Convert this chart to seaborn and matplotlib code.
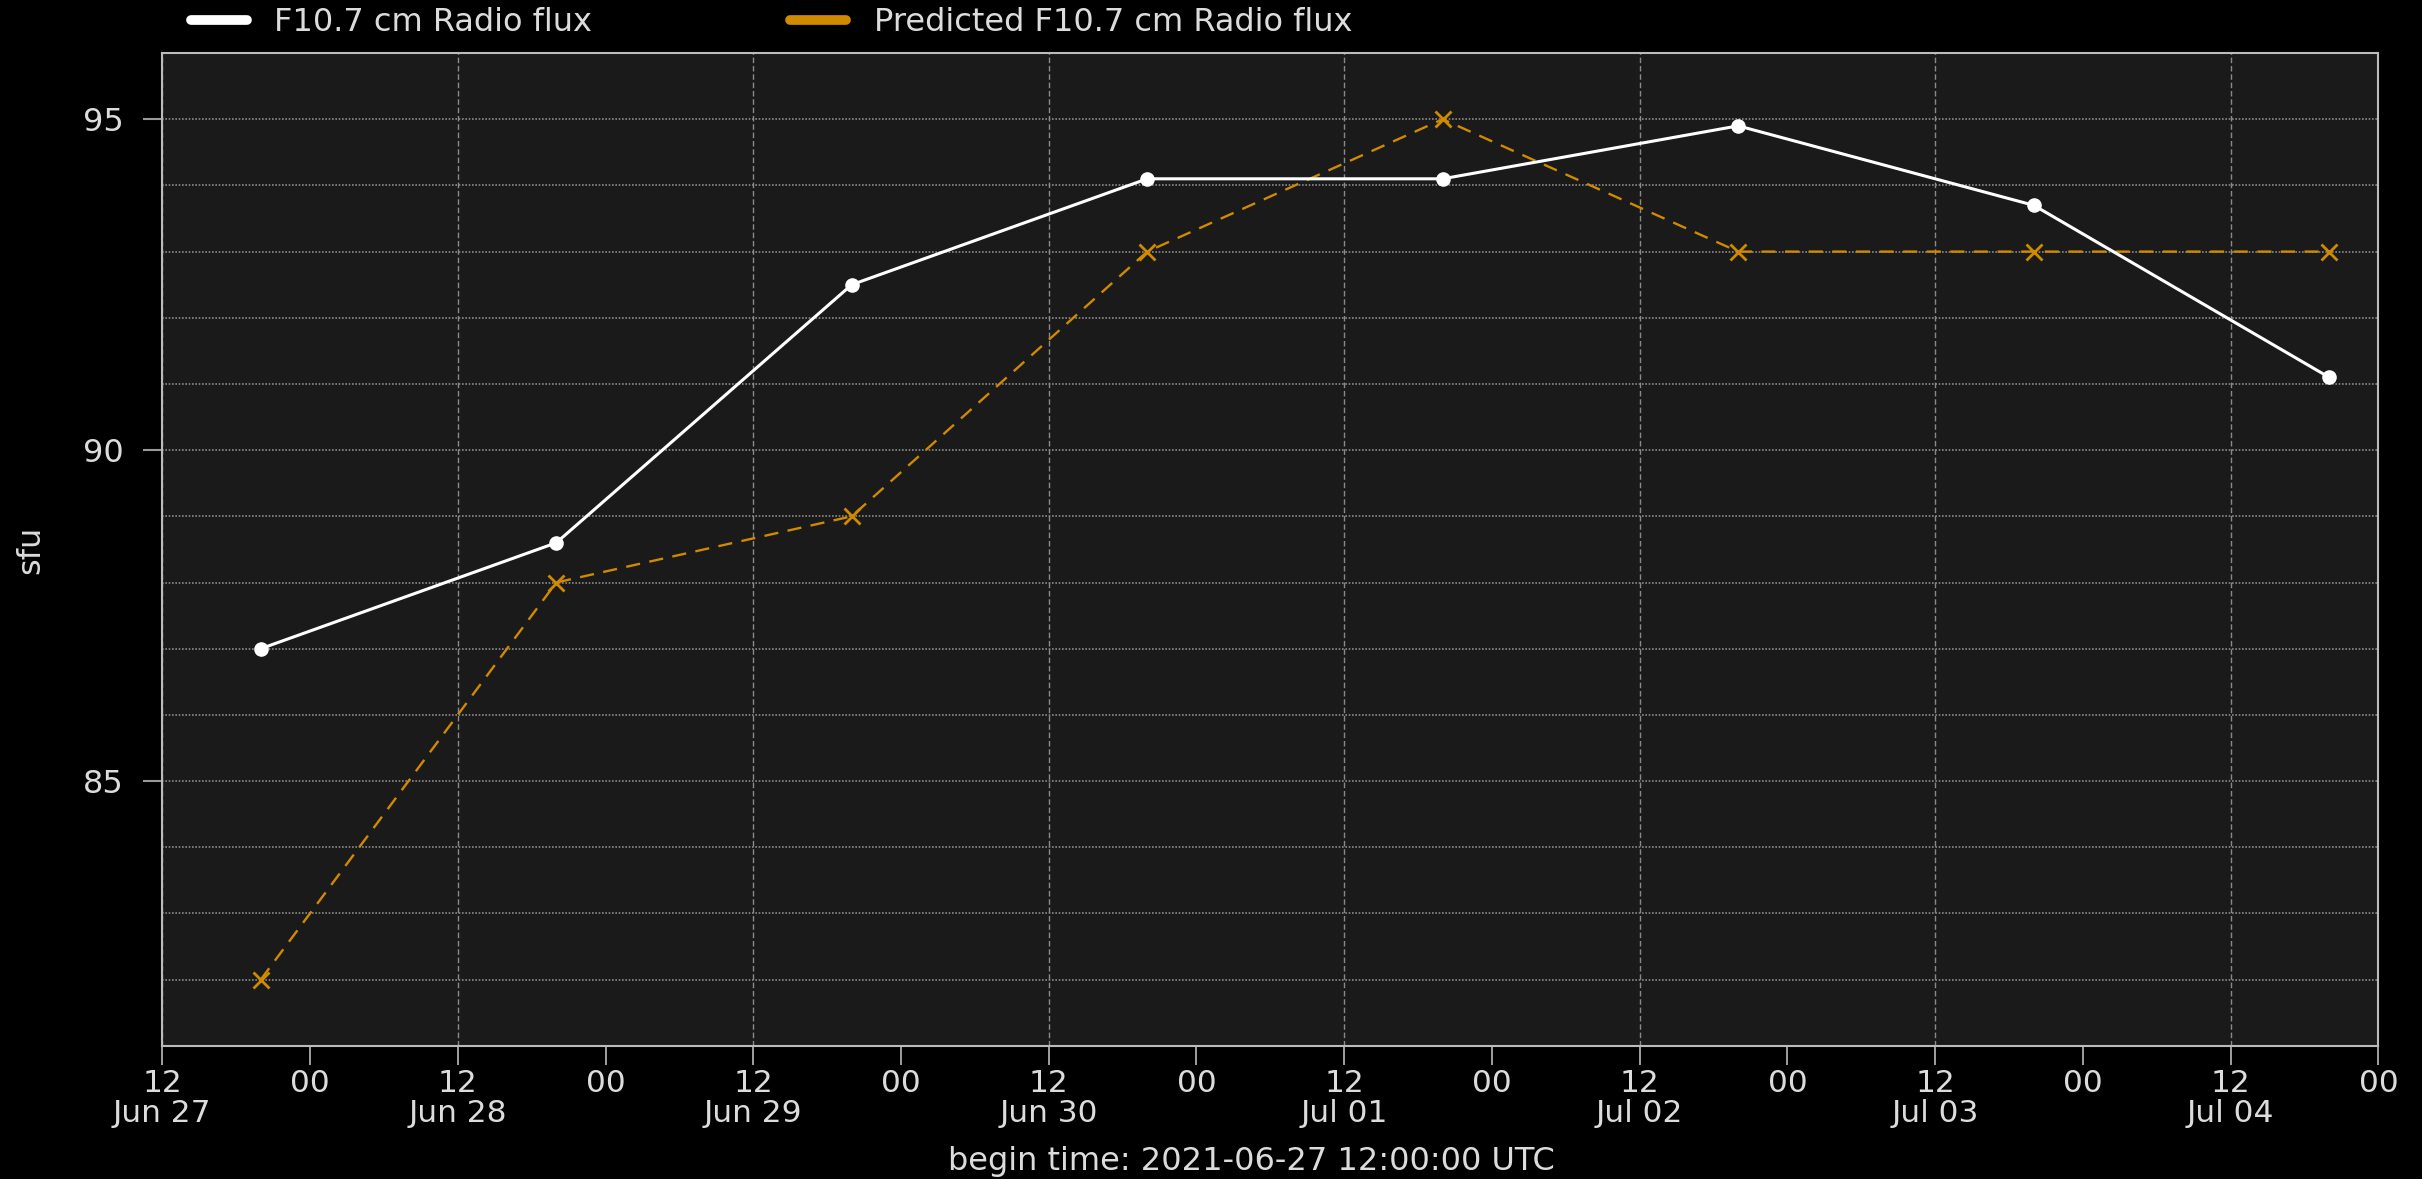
import pandas as pd
import matplotlib
matplotlib.use('Agg')
import matplotlib.pyplot as plt
import matplotlib.dates as mdates
from matplotlib.lines import Line2D
from matplotlib.ticker import MultipleLocator
import seaborn as sns

# Daily F10.7 values (sfu), one per day at 20:00 UTC
times = pd.date_range('2021-06-27 20:00', periods=8, freq='D')
observed = [87.0, 88.6, 92.5, 94.1, 94.1, 94.9, 93.7, 91.1]
predicted = [82, 88, 89, 93, 95, 93, 93, 93]

obs_label = 'F10.7 cm Radio flux'
pred_label = 'Predicted F10.7 cm Radio flux'
begin_time = '2021-06-27 12:00:00 UTC'

orange = '#d08a00'
text_col = '#dcdcdc'

sns.set_style('dark')
plt.rcParams['font.family'] = ['DejaVu Sans']

fig = plt.figure(figsize=(24.22, 11.79), dpi=100, facecolor='black')
ax = fig.add_axes([0.067, 0.113, 0.915, 0.842])
ax.set_facecolor('#1a1a1a')

df = pd.DataFrame({'time': times, 'observed': observed, 'predicted': predicted})

sns.lineplot(data=df, x='time', y='observed', ax=ax, color='white', lw=2.2,
             marker='o', markersize=10.5, markeredgewidth=0, zorder=4)
sns.lineplot(data=df, x='time', y='predicted', ax=ax, color=orange, lw=1.7,
             linestyle=(0, (6, 4)), marker='x', markersize=12, markeredgewidth=2,
             markeredgecolor=orange, markerfacecolor=orange, zorder=3)

ax.set_xlim(pd.Timestamp('2021-06-27 12:00'), pd.Timestamp('2021-07-05 00:00'))
ax.set_ylim(81, 96)

# x axis: labelled ticks at 12 (with date) and 00
ax.xaxis.set_major_locator(mdates.HourLocator(byhour=[12]))
ax.xaxis.set_major_formatter(mdates.DateFormatter('%H\n%b %d'))
ax.xaxis.set_minor_locator(mdates.HourLocator(byhour=[0]))
ax.xaxis.set_minor_formatter(mdates.DateFormatter('%H'))

ax.yaxis.set_major_locator(MultipleLocator(5))
ax.yaxis.set_minor_locator(MultipleLocator(1))

ax.tick_params(axis='x', which='both', length=14, width=1.2, color='#bbbbbb',
               labelcolor=text_col, labelsize=22.5, pad=3, bottom=True)
ax.tick_params(axis='y', which='major', length=14, width=1.5, color='#999999',
               labelcolor=text_col, labelsize=23, pad=14, left=True)
ax.tick_params(axis='y', which='minor', length=0)

ax.grid(axis='x', which='major', color='#8a8a8a', ls=(0, (4, 2)), lw=1)
ax.grid(axis='x', which='minor', visible=False)
ax.grid(axis='y', which='both', color='#8a8a8a', ls=(0, (1, 1)), lw=1.2)

for s in ax.spines.values():
    s.set_visible(True)
    s.set_color('#bbbbbb')
    s.set_linewidth(1.5)

ax.set_xlabel('begin time: ' + begin_time, color=text_col, fontsize=23)
ax.xaxis.set_label_coords(0.4915, -0.101)
ax.set_ylabel('sfu', color=text_col, fontsize=23)
ax.yaxis.set_label_coords(-0.0525, 0.5)

handles = [Line2D([], [], color='white', lw=7, solid_capstyle='round'),
           Line2D([], [], color=orange, lw=7, solid_capstyle='round')]
fig.legend(handles, [obs_label, pred_label], loc='center left', bbox_to_anchor=(0.079, 0.981),
           ncol=2, frameon=False, fontsize=23, labelcolor=text_col,
           handlelength=1.75, handletextpad=0.85, columnspacing=6.2,
           borderaxespad=0, borderpad=0)

# tighter two-line date labels
fig.canvas.draw()
for lab in ax.get_xticklabels(which='both'):
    lab.set_linespacing(1.04)

fig.savefig('out.png', dpi=100, facecolor='black')
